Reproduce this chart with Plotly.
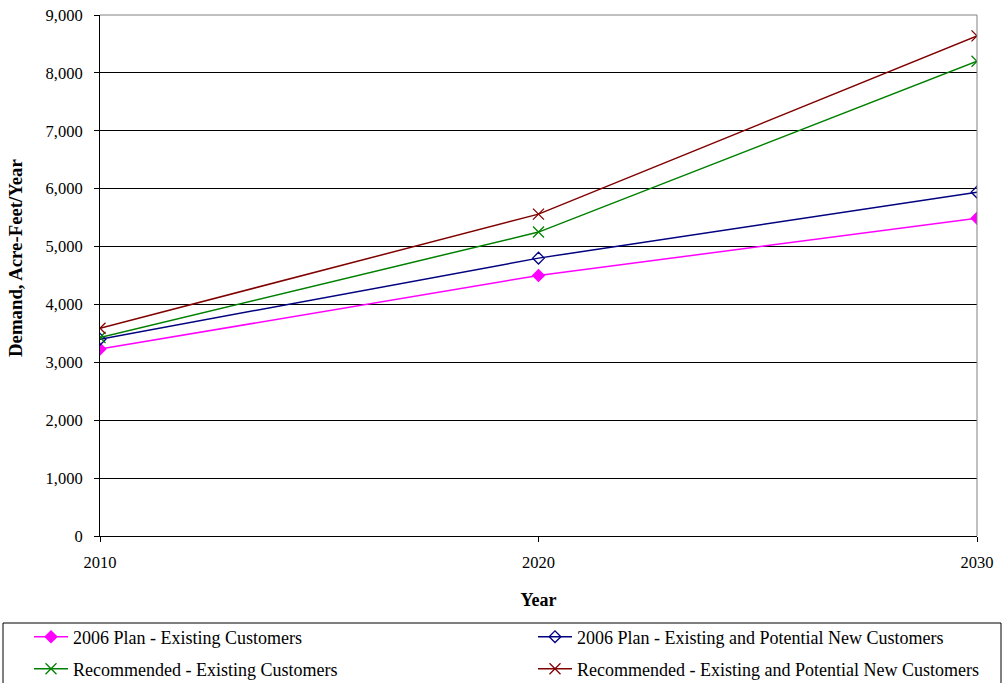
import plotly.graph_objects as go

years = [2010, 2020, 2030]
plan_existing = [3230, 4500, 5490]
plan_new = [3400, 4800, 5940]
rec_existing = [3430, 5250, 8200]
rec_new = [3590, 5560, 8640]

names = [
    "2006 Plan - Existing Customers",
    "2006 Plan - Existing and Potential New Customers",
    "Recommended - Existing Customers",
    "Recommended - Existing and Potential New Customers",
]
values = [plan_existing, plan_new, rec_existing, rec_new]
colors = ["#FF00FF", "#000080", "#008000", "#800000"]
symbols = ["diamond", "diamond-open", "x-thin-open", "x-thin-open"]
sizes = [9, 9, 11, 11]

font = "Liberation Serif, Times New Roman, serif"

L, R, T, B = 100, 26, 15, 147
W, H = 1003, 683
PW, PH = W - L - R, H - T - B


def px_x(px):
    return (px - L) / PW


def px_y(py):
    return (H - B - py) / PH


legend_ids = ["legend", "legend2", "legend3", "legend4"]
# legend positions (pixel): column left, row center
legend_pos = [(29, 637), (533, 637), (29, 669), (533, 669)]

fig = go.Figure()
for i in range(4):
    fig.add_trace(go.Scatter(
        x=years, y=values[i], name=names[i], mode="lines+markers",
        line=dict(color=colors[i], width=1.5),
        marker=dict(symbol=symbols[i], size=sizes[i], color=colors[i],
                    line=dict(color=colors[i], width=1.3)),
        legend=legend_ids[i],
    ))

legend_common = dict(
    bgcolor="rgba(0,0,0,0)", borderwidth=0,
    font=dict(family=font, size=18, color="black"),
    xanchor="left", yanchor="middle", itemwidth=34,
)
layout_legends = {}
for lid, (lx, ly) in zip(legend_ids, legend_pos):
    layout_legends[lid] = dict(x=px_x(lx), y=px_y(ly), **legend_common)

fig.update_layout(
    width=W, height=H,
    margin=dict(l=L, r=R, t=T, b=B, autoexpand=False),
    paper_bgcolor="white", plot_bgcolor="white",
    font=dict(family=font, size=16, color="black"),
    showlegend=True,
    xaxis=dict(
        range=[2010, 2030], tickvals=years, ticktext=[str(y) for y in years],
        showgrid=False, zeroline=False, showline=True, linecolor="black", linewidth=1,
        ticks="outside", ticklen=5, tickcolor="black", ticklabelstandoff=6,
        tickfont=dict(family=font, size=16.5),
        title=dict(text="<b>Year</b>", font=dict(family=font, size=18), standoff=22),
    ),
    yaxis=dict(
        range=[0, 9000], dtick=1000, tickformat=",d",
        showgrid=True, gridcolor="black", gridwidth=1, zeroline=False,
        showline=True, linecolor="black", linewidth=1,
        ticks="outside", ticklen=5, tickcolor="black", ticklabelstandoff=8,
        tickfont=dict(family=font, size=16.5),
    ),
    **layout_legends,
)
# y-axis title
fig.add_annotation(text="<b>Demand, Acre-Feet/Year</b>", xref="paper", yref="paper",
                   x=px_x(15), y=px_y(258), textangle=-90, showarrow=False,
                   xanchor="center", yanchor="middle",
                   font=dict(family=font, size=18.8, color="black"))
# gray frame on top and right of plot area
fig.add_shape(type="line", xref="paper", yref="paper", x0=0, x1=1, y0=1, y1=1,
              line=dict(color="#808080", width=1))
fig.add_shape(type="line", xref="paper", yref="paper", x0=1, x1=1, y0=0, y1=1,
              line=dict(color="#808080", width=1))
# legend box
fig.add_shape(type="rect", xref="paper", yref="paper",
              x0=px_x(3), x1=px_x(1001), y0=px_y(623), y1=px_y(700),
              line=dict(color="black", width=1), fillcolor="rgba(0,0,0,0)")

fig.write_html("out.html", config={"displayModeBar": False},
               post_script="document.body.style.margin='0';")
